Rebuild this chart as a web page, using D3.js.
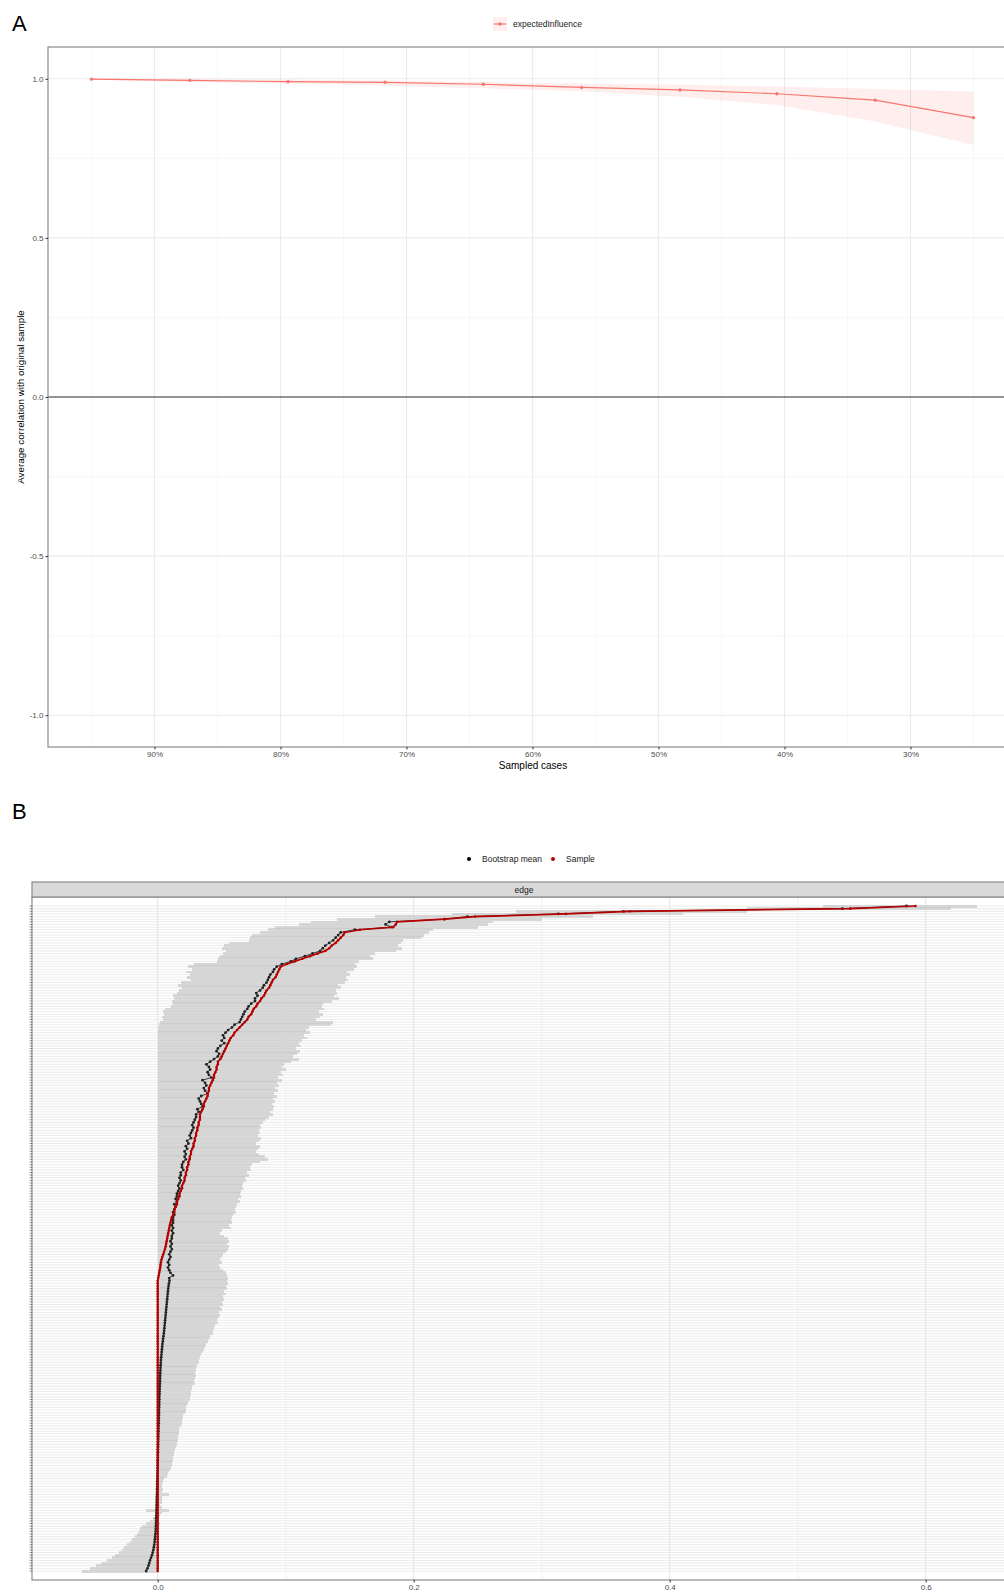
<!DOCTYPE html>
<html lang="en">
<head>
<meta charset="UTF-8" />
<title>Stability</title>
<style>
  body { margin: 0; background: #fff; }
  svg { display: block; font-family: "Liberation Sans", Arial, sans-serif; }
  .tick text { fill: #4d4d4d; font-size: 8px; }
  .tick line { stroke: #333; }
</style>
</head>
<body>
<script src="https://cdn.jsdelivr.net/npm/d3@7"></script>
<script>
const width = 1004, height = 1593;

// ---- panel A: case-dropping ----
const sampledCases = [0.95, 0.872, 0.794, 0.717, 0.639, 0.561, 0.483, 0.406, 0.328, 0.25];
const corMean = [0.999, 0.995, 0.991, 0.989, 0.983, 0.973, 0.965, 0.953, 0.933, 0.878];
const corLower = [0.997, 0.990, 0.985, 0.978, 0.970, 0.961, 0.944, 0.918, 0.866, 0.792];
const corUpper = [1.0, 0.999, 0.997, 0.995, 0.990, 0.985, 0.981, 0.976, 0.968, 0.960];
const caseTicks = [0.9, 0.8, 0.7, 0.6, 0.5, 0.4, 0.3];
const caseMinor = [0.95, 0.85, 0.75, 0.65, 0.55, 0.45, 0.35, 0.25];
const corTicks = [-1, -0.5, 0, 0.5, 1];
const corMinor = [-0.75, -0.25, 0.25, 0.75];

// ---- panel B: edge weights, sorted by sample value ----
const edgeSample = [
  0.592, 0.541, 0.369, 0.319, 0.248, 0.224, 0.187, 0.186, 0.184, 0.158, 0.146,
  0.145, 0.143, 0.141, 0.139, 0.136, 0.134, 0.131,
  0.125, 0.119, 0.113, 0.107, 0.101, 0.096,
  0.095, 0.094, 0.093, 0.092, 0.090, 0.089, 0.088, 0.087, 0.085, 0.084, 0.083, 0.081, 0.080, 0.078,
  0.077, 0.075, 0.074, 0.073, 0.071, 0.070, 0.068,
  0.066, 0.064, 0.062, 0.060, 0.059, 0.057,
  0.056, 0.055, 0.054, 0.053, 0.052, 0.051, 0.050, 0.049, 0.047,
  0.047, 0.046, 0.046, 0.045, 0.044, 0.044, 0.043, 0.042, 0.041, 0.040,
  0.040, 0.039, 0.039, 0.038, 0.037, 0.036, 0.036, 0.035, 0.034, 0.033,
  0.033, 0.033, 0.032, 0.032, 0.031, 0.031, 0.030, 0.030, 0.029, 0.029, 0.028, 0.028, 0.027, 0.026,
  0.026, 0.025, 0.025, 0.024, 0.024, 0.023, 0.023, 0.022, 0.022, 0.021, 0.021, 0.020,
  0.019, 0.019, 0.018, 0.017, 0.017, 0.016, 0.015, 0.015, 0.014, 0.013, 0.013, 0.012, 0.011,
  0.0105, 0.0100, 0.0095, 0.0090, 0.0086, 0.0082, 0.0078, 0.0074, 0.0070, 0.0066, 0.0062, 0.0057,
  0.0050, 0.0043, 0.0036, 0.0030, 0.0025, 0.0022, 0.0020, 0.0016, 0.0012, 0.0008, 0.0004,
  0, 0, 0, 0, 0,  0, 0, 0, 0, 0,  0, 0, 0, 0, 0,  0, 0, 0, 0, 0,  0, 0, 0, 0, 0,
  0, 0, 0, 0, 0,  0, 0, 0, 0, 0,  0, 0, 0, 0, 0,  0, 0, 0, 0, 0,  0, 0, 0, 0, 0,
  0, 0, 0, 0, 0,  0, 0, 0, 0, 0,  0, 0, 0, 0, 0,  0, 0, 0, 0, 0,  0, 0, 0, 0, 0,
  0, 0, 0, 0, 0,  0, 0, 0, 0, 0,  0, 0, 0, 0, 0,  0, 0, 0, 0, 0,  0, 0, 0, 0, 0,
  0, 0, 0, 0, 0,  0, 0, 0, 0, 0,  0
];
const edgeMean = [
  0.585, 0.535, 0.364, 0.313, 0.242, 0.224, 0.181, 0.178, 0.183, 0.154, 0.143,
  0.141, 0.139, 0.137, 0.134, 0.131, 0.129, 0.127,
  0.121, 0.115, 0.108, 0.104, 0.097, 0.093,
  0.091, 0.090, 0.088, 0.087, 0.086, 0.085, 0.083, 0.082, 0.080, 0.077, 0.078, 0.076, 0.076, 0.073,
  0.071, 0.070, 0.068, 0.067, 0.066, 0.065, 0.064,
  0.060, 0.058, 0.055, 0.053, 0.051, 0.052,
  0.050, 0.052, 0.049, 0.047, 0.046, 0.048, 0.047, 0.044, 0.041,
  0.038, 0.040, 0.041, 0.039, 0.040, 0.042, 0.035, 0.037, 0.038, 0.036,
  0.037, 0.039, 0.034, 0.032, 0.033, 0.034, 0.035, 0.031, 0.032, 0.030,
  0.030, 0.029, 0.028, 0.027, 0.028, 0.027, 0.026, 0.025, 0.026, 0.023, 0.024, 0.022, 0.023, 0.021,
  0.022, 0.021, 0.022, 0.020, 0.019, 0.019, 0.020, 0.018, 0.018, 0.017, 0.018, 0.017,
  0.016, 0.017, 0.016, 0.015, 0.015, 0.014, 0.015, 0.013, 0.014, 0.013, 0.012, 0.013, 0.012,
  0.012, 0.012, 0.011, 0.012, 0.011, 0.012, 0.011, 0.011, 0.010, 0.011, 0.010, 0.011,
  0.010, 0.009, 0.010, 0.009, 0.008, 0.009, 0.008, 0.009, 0.010, 0.012, 0.009,
  0.0092, 0.0088, 0.0085, 0.0082, 0.0080, 0.0078, 0.0076, 0.0074,
  0.0072, 0.0070, 0.0068, 0.0066, 0.0064, 0.0062, 0.0060, 0.0058, 0.0056, 0.0054, 0.0052, 0.0050, 0.0048,
  0.0045, 0.0042, 0.0040, 0.0037, 0.0035, 0.0033, 0.0031, 0.0029, 0.0027, 0.0025, 0.0024, 0.0023,
  0.0022, 0.0021, 0.0020, 0.0019, 0.0018, 0.0018, 0.0017, 0.0016, 0.0015, 0.0015, 0.0014, 0.0013, 0.0013,
  0.0012, 0.0012, 0.0011, 0.0010, 0.0010, 0.0009, 0.0009, 0.0008, 0.0008, 0.0007, 0.0006, 0.0006, 0.0005,
  0.0005, 0.0004, 0.0004, 0.0003, 0.0003, 0.0002, 0.0002, 0.0001, 0.0001, 0.0000, 0.0000, 0.0000,
  -0.0001, -0.0001, -0.0002, -0.0002, -0.0003, -0.0003, -0.0004, -0.0004, -0.0005, -0.0005, -0.0006, -0.0007, -0.0008,
  -0.0008, -0.0009, -0.0009, -0.0010, -0.0010, -0.0011, -0.0012, -0.0012, -0.0013, -0.0014, -0.0015, -0.0016,
  -0.0018, -0.0020, -0.0022, -0.0024, -0.0027, -0.0030, -0.0034,
  -0.0039, -0.0045, -0.0052, -0.0060, -0.0066, -0.0072, -0.0080, -0.0090
];
const edgeLower = [
  0.520, 0.460, 0.280, 0.230, 0.170, 0.140, 0.120, 0.110, 0.092, 0.086, 0.080,
  0.074, 0.072, 0.071, 0.056, 0.052, 0.050, 0.053,
  0.051, 0.049, 0.047, 0.046, 0.028, 0.024,
  0.027, 0.022, 0.025, 0.023, 0.026, 0.018, 0.016, 0.019, 0.017, 0.015, 0.012, 0.013, 0.011, 0.012,
  0.010, 0.006, 0.004, 0.005, 0.003, 0.004, 0.002,
  0.001, 0, 0, 0, 0, 0,
  0, 0, 0, 0, 0,  0, 0, 0, 0, 0,  0, 0, 0, 0, 0,  0, 0, 0, 0, 0,  0, 0, 0, 0, 0,
  0, 0, 0, 0, 0,  0, 0, 0, 0, 0,  0, 0, 0, 0, 0,  0, 0, 0, 0, 0,  0, 0, 0, 0, 0,
  0, 0, 0, 0, 0,  0, 0, 0, 0, 0,  0, 0, 0, 0, 0,  0, 0, 0, 0, 0,  0, 0, 0, 0, 0,
  0, 0, 0, 0, 0,  0, 0, 0, 0, 0,  0, 0, 0, 0, 0,  0, 0, 0, 0, 0,  0, 0, 0, 0, 0,
  0, 0, 0, 0, 0,  0, 0, 0, 0, 0,  0, 0, 0, 0, 0,  0, 0, 0, 0, 0,  0, 0, 0, 0, 0,
  0, 0, 0, 0, 0,  0, 0, 0, 0, 0,  0, 0, 0, 0, 0,  0, 0, 0, 0, 0,  0, 0, 0, 0, 0,
  0, 0, 0, 0, 0,  0, 0, 0, 0, 0,  0, 0, 0, 0, 0,  0, 0, 0, 0, 0,  0, 0, 0, 0, 0,
  0, 0, 0, -0.009, 0, -0.002, -0.004, -0.006, -0.009, -0.012,
  -0.014, -0.015, -0.016, -0.018, -0.020, -0.022, -0.024, -0.026, -0.028, -0.030,
  -0.033, -0.036, -0.040, -0.044, -0.048, -0.053, -0.059
];
const edgeUpper = [
  0.640, 0.620, 0.460, 0.410, 0.340, 0.300, 0.262, 0.258, 0.250, 0.215, 0.212,
  0.208, 0.206, 0.192, 0.190, 0.188, 0.191, 0.186,
  0.170, 0.166, 0.168, 0.157, 0.154, 0.156,
  0.153, 0.148, 0.150, 0.147, 0.149, 0.146, 0.141, 0.143, 0.139, 0.140, 0.138, 0.142, 0.136, 0.129,
  0.128, 0.130, 0.126, 0.129, 0.127, 0.124, 0.137,
  0.135, 0.118, 0.116, 0.119, 0.114, 0.117,
  0.113, 0.110, 0.112, 0.108, 0.111, 0.109, 0.106, 0.110, 0.104,
  0.099, 0.097, 0.100, 0.096, 0.098, 0.094, 0.097, 0.093, 0.095, 0.092,
  0.094, 0.091, 0.093, 0.090, 0.092, 0.089, 0.091, 0.090, 0.088, 0.090,
  0.087, 0.084, 0.082, 0.080, 0.081, 0.079, 0.080, 0.078, 0.081, 0.079, 0.077, 0.080, 0.078, 0.077,
  0.079, 0.084, 0.086, 0.080, 0.074, 0.072, 0.073, 0.070, 0.071, 0.068, 0.069, 0.067,
  0.066, 0.067, 0.065, 0.064, 0.065, 0.063, 0.064, 0.062, 0.061, 0.060, 0.061, 0.059, 0.058,
  0.057, 0.058, 0.056, 0.057, 0.050, 0.049, 0.052, 0.055, 0.056, 0.054, 0.056, 0.055,
  0.053, 0.051, 0.050, 0.049, 0.050, 0.048, 0.049, 0.051, 0.053, 0.054, 0.055,
  0.054, 0.055, 0.053, 0.054, 0.052, 0.053, 0.051, 0.052,
  0.050, 0.051, 0.049, 0.050, 0.048, 0.049, 0.047, 0.046, 0.047, 0.045, 0.044, 0.043, 0.043,
  0.041, 0.040, 0.039, 0.038, 0.037, 0.036, 0.035, 0.034, 0.033, 0.032, 0.032, 0.031,
  0.030, 0.030, 0.029, 0.030, 0.029, 0.028, 0.029, 0.027, 0.027, 0.026, 0.026, 0.025, 0.025,
  0.024, 0.023, 0.022, 0.022, 0.021, 0.020, 0.020, 0.019, 0.019, 0.018, 0.017, 0.017, 0.017,
  0.016, 0.016, 0.015, 0.015, 0.014, 0.0135, 0.013, 0.013, 0.012, 0.012, 0.011, 0.011,
  0.010, 0.009, 0.008, 0.007, 0.005, 0.004, 0.003, 0.003, 0.004, 0.003, 0.009, 0.003, 0.003,
  0.003, 0.002, 0.003, 0.009, 0.003, 0.002, 0.001, 0.001, 0.002, 0.001, 0.001, 0.001,
  0.001, 0.001, 0.001, 0.001, 0.001, 0.001, 0.001,
  0.001, 0.001, 0.001, 0.001, 0.001, 0.001, 0.001, 0.001
];
const edgeTicks = [0, 0.2, 0.4, 0.6];
const edgeMinor = [0.1, 0.3, 0.5, 0.7];

const salmon = "#F8766D";
const darkred = "#b40000";
const fmt1 = d => d.toFixed(1);

const svg = d3.select("body").append("svg")
  .attr("width", width).attr("height", height);

// ================= panel A =================
const pA = { left: 48, top: 47, right: 1030, bottom: 747 };
const xA = d3.scaleLinear().domain([0.95, 0.25]).range([91.5, 973.5]);
const yA = d3.scaleLinear().domain([-1.1, 1.1]).range([pA.bottom, pA.top]);

const gA = svg.append("g");
gA.selectAll(".vmin").data(caseMinor).join("line")
  .attr("x1", d => xA(d)).attr("x2", d => xA(d))
  .attr("y1", pA.top).attr("y2", pA.bottom)
  .attr("stroke", "#f3f3f3").attr("stroke-width", 0.7);
gA.selectAll(".hmin").data(corMinor).join("line")
  .attr("x1", pA.left).attr("x2", pA.right)
  .attr("y1", d => yA(d)).attr("y2", d => yA(d))
  .attr("stroke", "#f3f3f3").attr("stroke-width", 0.7);
gA.selectAll(".vmaj").data(caseTicks).join("line")
  .attr("x1", d => xA(d)).attr("x2", d => xA(d))
  .attr("y1", pA.top).attr("y2", pA.bottom)
  .attr("stroke", "#ebebeb").attr("stroke-width", 1.1);
gA.selectAll(".hmaj").data(corTicks).join("line")
  .attr("x1", pA.left).attr("x2", pA.right)
  .attr("y1", d => yA(d)).attr("y2", d => yA(d))
  .attr("stroke", "#ebebeb").attr("stroke-width", 1.1);

gA.append("line")
  .attr("x1", pA.left).attr("x2", pA.right)
  .attr("y1", yA(0)).attr("y2", yA(0))
  .attr("stroke", "#333").attr("stroke-width", 1);

const idxA = d3.range(sampledCases.length);
gA.append("path")
  .datum(idxA)
  .attr("fill", salmon).attr("fill-opacity", 0.12)
  .attr("d", d3.area()
    .x(i => xA(sampledCases[i]))
    .y0(i => yA(corLower[i]))
    .y1(i => yA(corUpper[i])));
gA.append("path")
  .datum(idxA)
  .attr("fill", "none").attr("stroke", salmon).attr("stroke-width", 1.2)
  .attr("d", d3.line().x(i => xA(sampledCases[i])).y(i => yA(corMean[i])));
gA.selectAll(".pt").data(idxA).join("circle")
  .attr("cx", i => xA(sampledCases[i])).attr("cy", i => yA(corMean[i]))
  .attr("r", 1.7).attr("fill", salmon);

gA.append("rect")
  .attr("x", pA.left).attr("y", pA.top)
  .attr("width", pA.right - pA.left).attr("height", pA.bottom - pA.top)
  .attr("fill", "none").attr("stroke", "#8a8a8a").attr("stroke-width", 1.2);

const axA = gA.append("g").attr("transform", `translate(${pA.left},0)`)
  .call(d3.axisLeft(yA).tickValues(corTicks).tickFormat(fmt1).tickSize(2.5).tickPadding(2));
axA.select(".domain").remove();
const axB = gA.append("g").attr("transform", `translate(0,${pA.bottom})`)
  .call(d3.axisBottom(xA).tickValues(caseTicks).tickFormat(d => Math.round(d * 100) + "%").tickSize(2.5).tickPadding(1.5));
axB.select(".domain").remove();

gA.append("text").attr("x", 533).attr("y", 769).attr("text-anchor", "middle")
  .attr("font-size", 10).attr("fill", "#000").text("Sampled cases");
gA.append("text").attr("transform", "translate(24,397) rotate(-90)").attr("text-anchor", "middle")
  .attr("font-size", 9.8).attr("fill", "#000").text("Average correlation with original sample");

// legend A
gA.append("rect").attr("x", 493).attr("y", 17).attr("width", 14).attr("height", 14)
  .attr("fill", salmon).attr("fill-opacity", 0.12);
gA.append("line").attr("x1", 494).attr("x2", 506).attr("y1", 24).attr("y2", 24)
  .attr("stroke", salmon).attr("stroke-width", 1.2);
gA.append("circle").attr("cx", 500).attr("cy", 24).attr("r", 1.7).attr("fill", salmon);
gA.append("text").attr("x", 513).attr("y", 27).attr("font-size", 8.5).attr("fill", "#1a1a1a")
  .text("expectedInfluence");

svg.append("text").attr("x", 12).attr("y", 31).attr("font-size", 22).attr("fill", "#000").text("A");
svg.append("text").attr("x", 12).attr("y", 819).attr("font-size", 22).attr("fill", "#000").text("B");

// ================= panel B =================
const pB = { left: 32, top: 897, right: 1030, bottom: 1580, stripTop: 882 };
const N = edgeSample.length;
const idxB = d3.range(N);
const xB = d3.scaleLinear().domain([0, 0.6]).range([157.7, 925.7]);
const yB = d3.scalePoint().domain(idxB).range([906, 1571]);
const step = yB.step();

const gB = svg.append("g");
gB.append("rect").attr("x", pB.left).attr("y", pB.top)
  .attr("width", pB.right - pB.left).attr("height", pB.bottom - pB.top).attr("fill", "#fff");
gB.selectAll(".hg").data(idxB).join("line")
  .attr("x1", pB.left).attr("x2", pB.right)
  .attr("y1", i => yB(i)).attr("y2", i => yB(i))
  .attr("stroke", "#e9e9e9").attr("stroke-width", 0.9);
gB.selectAll(".vmin").data(edgeMinor).join("line")
  .attr("x1", d => xB(d)).attr("x2", d => xB(d))
  .attr("y1", pB.top).attr("y2", pB.bottom)
  .attr("stroke", "#ececec").attr("stroke-width", 0.7);
gB.selectAll(".vmaj").data(edgeTicks).join("line")
  .attr("x1", d => xB(d)).attr("x2", d => xB(d))
  .attr("y1", pB.top).attr("y2", pB.bottom)
  .attr("stroke", "#e6e6e6").attr("stroke-width", 1.1);

// bootstrapped CI bands
gB.selectAll(".ci").data(idxB).join("rect")
  .attr("x", i => xB(edgeLower[i]))
  .attr("width", i => Math.max(0, xB(edgeUpper[i]) - xB(edgeLower[i])))
  .attr("y", i => yB(i) - step / 2)
  .attr("height", step + 0.2)
  .attr("fill", "#c9c9c9").attr("fill-opacity", 0.72)
  .attr("shape-rendering", "crispEdges");

// bootstrap mean
gB.append("path").datum(idxB)
  .attr("fill", "none").attr("stroke", "#111").attr("stroke-width", 0.8)
  .attr("d", d3.line().x(i => xB(edgeMean[i])).y(i => yB(i)));
gB.selectAll(".bm").data(idxB).join("circle")
  .attr("cx", i => xB(edgeMean[i])).attr("cy", i => yB(i))
  .attr("r", 1.4).attr("fill", "#222");

// sample
gB.append("path").datum(idxB)
  .attr("fill", "none").attr("stroke", darkred).attr("stroke-width", 1.7)
  .attr("d", d3.line().x(i => xB(edgeSample[i])).y(i => yB(i)));
gB.selectAll(".sm").data(idxB).join("circle")
  .attr("cx", i => xB(edgeSample[i])).attr("cy", i => yB(i))
  .attr("r", 1.3).attr("fill", darkred);

// panel border
gB.append("rect").attr("x", pB.left).attr("y", pB.top)
  .attr("width", pB.right - pB.left).attr("height", pB.bottom - pB.top)
  .attr("fill", "none").attr("stroke", "#8a8a8a").attr("stroke-width", 1.2);

// strip
gB.append("rect").attr("x", pB.left).attr("y", pB.stripTop)
  .attr("width", pB.right - pB.left).attr("height", pB.top - pB.stripTop)
  .attr("fill", "#d9d9d9").attr("stroke", "#8a8a8a").attr("stroke-width", 1.2);
gB.append("text").attr("x", 524).attr("y", 893).attr("text-anchor", "middle")
  .attr("font-size", 8.5).attr("fill", "#1a1a1a").text("edge");

// y ticks (one per edge, unlabeled)
gB.selectAll(".yt").data(idxB).join("line")
  .attr("x1", pB.left - 2.5).attr("x2", pB.left)
  .attr("y1", i => yB(i)).attr("y2", i => yB(i))
  .attr("stroke", "#555").attr("stroke-width", 0.6);

const axBx = gB.append("g").attr("transform", `translate(0,${pB.bottom})`)
  .call(d3.axisBottom(xB).tickValues(edgeTicks).tickFormat(fmt1).tickSize(2.5).tickPadding(1.5));
axBx.select(".domain").remove();

// legend B
gB.append("circle").attr("cx", 469).attr("cy", 859).attr("r", 2).attr("fill", "#000");
gB.append("text").attr("x", 482).attr("y", 862).attr("font-size", 8.5).attr("fill", "#1a1a1a").text("Bootstrap mean");
gB.append("circle").attr("cx", 553).attr("cy", 859).attr("r", 2).attr("fill", darkred);
gB.append("text").attr("x", 566).attr("y", 862).attr("font-size", 8.5).attr("fill", "#1a1a1a").text("Sample");
</script>
</body>
</html>
